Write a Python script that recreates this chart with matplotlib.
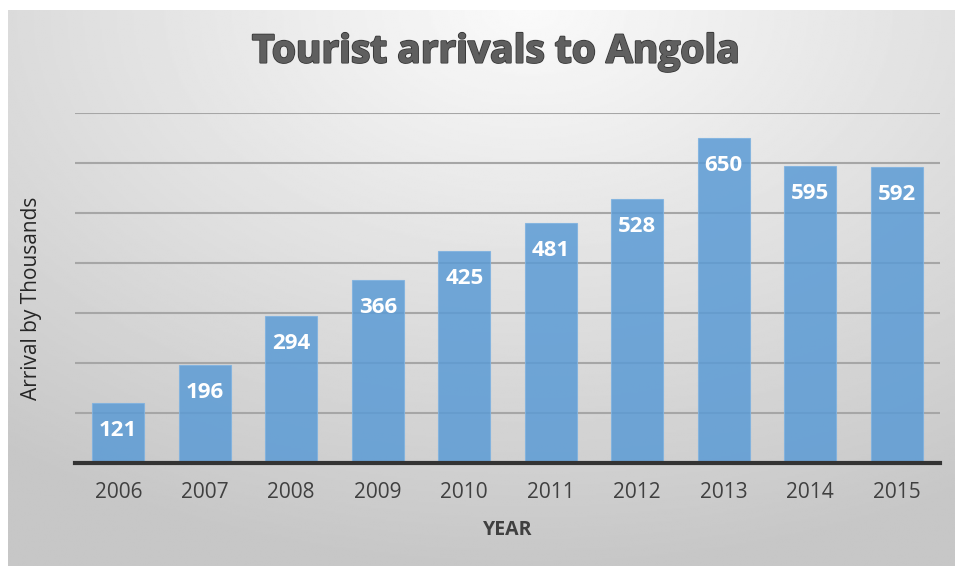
import numpy as np
import matplotlib.pyplot as plt
import matplotlib.patheffects as pe

years = ["2006", "2007", "2008", "2009", "2010", "2011", "2012", "2013", "2014", "2015"]
arrivals = [121, 196, 294, 366, 425, 481, 528, 650, 595, 592]

fig = plt.figure(figsize=(9.6, 5.71), dpi=100)
fig.patch.set_facecolor("white")

# gradient background panel
bg = fig.add_axes([8 / 960, 5 / 571, 947 / 960, 556 / 571])
bg.set_axis_off()
yy, xx = np.mgrid[0:1:300j, 0:1:500j]
dist = np.sqrt(((xx - 0.55) * 1.0) ** 2 + ((yy - 0.0) * 0.9) ** 2)
grad = 0.98 - 0.2 * np.clip(dist / 0.9, 0, 1)
bg.imshow(grad, cmap="gray", vmin=0, vmax=1, aspect="auto", extent=[0, 1, 1, 0])
bg.set_xlim(0, 1)
bg.set_ylim(1, 0)

ax = fig.add_axes([75 / 960, 1 - 463 / 571, 865 / 960, 350 / 571])
ax.patch.set_alpha(0)
x = np.arange(len(years))
bars = ax.bar(x, arrivals, width=0.6, color="#5B9BD5", alpha=0.85, zorder=3,
              edgecolor="#7fb2e0", linewidth=0.8)
ax.set_xlim(-0.5, len(years) - 0.5)
ax.set_ylim(0, 700)
ax.set_yticks(range(100, 701, 100))
ax.yaxis.grid(True, color="#a6a6a6", linewidth=1.5, zorder=1)
ax.set_axisbelow(True)
ax.tick_params(axis="y", length=0, labelleft=False)
ax.tick_params(axis="x", length=0, pad=14, labelsize=15, labelcolor="#404040")
ax.set_xticks(x)
ax.set_xticklabels(years, family="Open Sans")
for s in ["top", "right", "left"]:
    ax.spines[s].set_visible(False)
ax.spines["bottom"].set_color("#333333")
ax.spines["bottom"].set_linewidth(3)
ax.spines["bottom"].set_zorder(4)

for xi, v in zip(x, arrivals):
    ax.annotate(str(v), (xi, v), xytext=(0, -20), textcoords="offset points",
                ha="center", va="center", color="white", fontsize=16,
                fontweight="bold", family="Open Sans", zorder=5)

ax.set_xlabel("YEAR", fontsize=14, fontweight="bold", color="#404040",
              family="Open Sans", labelpad=12)
fig.text(32 / 960, 1 - 298 / 571, "Arrival by Thousands", rotation=90,
         ha="center", va="center", fontsize=15, color="#262626", family="Open Sans")

fig.text(0.516, 1 - 52 / 571, "Tourist arrivals to Angola", ha="center", va="center",
         fontsize=28, fontweight="bold", color="#5f5f5f", family="Open Sans",
         path_effects=[pe.withStroke(linewidth=1.5, foreground="#3a3a3a"),
                       pe.Normal()])

fig.savefig("out.png", dpi=100, facecolor=fig.get_facecolor())
